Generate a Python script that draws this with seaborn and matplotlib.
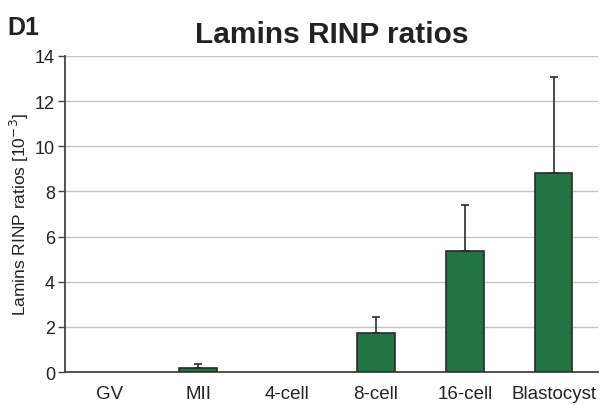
import matplotlib
matplotlib.use("Agg")
import matplotlib.pyplot as plt
import seaborn as sns
import pandas as pd

stages = ["GV", "MII", "4-cell", "8-cell", "16-cell", "Blastocyst"]
ratios = [0.0, 0.2, 0.0, 1.75, 5.35, 8.8]
errors = [0.0, 0.18, 0.0, 0.68, 2.05, 4.25]

df = pd.DataFrame({"stage": stages, "ratio": ratios})

sns.set_theme(style="white")
plt.rcParams["font.family"] = ["Liberation Sans", "DejaVu Sans"]
plt.rcParams["text.color"] = "#222222"
plt.rcParams["axes.labelcolor"] = "#222222"
plt.rcParams["xtick.color"] = "#222222"
plt.rcParams["ytick.color"] = "#222222"

fig = plt.figure(figsize=(6, 4.06), dpi=100)
ax = fig.add_axes([0.108, 0.081, 0.889, 0.779])

sns.barplot(data=df, x="stage", y="ratio", color="#217540", saturation=1,
            width=0.42, edgecolor="#2b2b2b", linewidth=1.2, errorbar=None,
            ax=ax, zorder=3)
# zero-height bars should not show an outline on the axis
for p, v in zip(ax.patches, ratios):
    if v == 0:
        p.set_visible(False)
for i, (v, e) in enumerate(zip(ratios, errors)):
    if e > 0:
        ax.errorbar(i, v, yerr=[[0], [e]], fmt="none", ecolor="#2b2b2b",
                    elinewidth=1.2, capsize=3, capthick=1.2, zorder=4)

ax.set_ylim(0, 14)
ax.set_xlim(-0.5, 5.5)
ax.set_yticks(range(0, 15, 2))
ax.yaxis.grid(True, color="#c4c4c4", linewidth=1)
ax.set_axisbelow(True)
for s in ["top", "right"]:
    ax.spines[s].set_visible(False)
for s in ["left", "bottom"]:
    ax.spines[s].set_color("#444444")
    ax.spines[s].set_linewidth(1.3)
ax.tick_params(axis="y", length=5, width=1, color="#444444", labelsize=13,
               left=True, direction="out", pad=2)
ax.tick_params(axis="x", length=0, labelsize=13.5, pad=9)
ax.set_xlabel("")
ax.set_ylabel("Lamins RINP ratios [10$^{-3}$]", fontsize=12.5, labelpad=3)
ax.set_title("Lamins RINP ratios", fontsize=21.5, fontweight="bold", pad=10)
fig.text(0.013, 0.915, "D1", fontsize=18, fontweight="bold")

fig.savefig("out.png", dpi=100)
